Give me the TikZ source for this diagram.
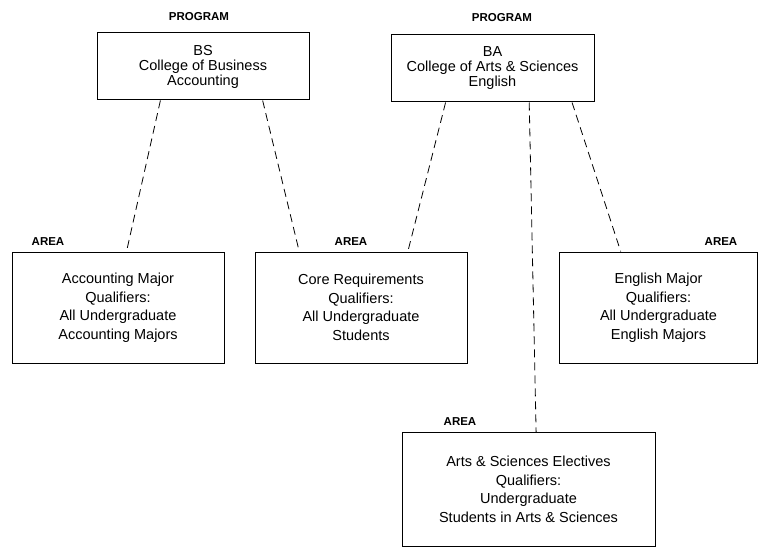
\documentclass[tikz,border=0pt]{standalone}
\usepackage{fontspec}
\setmainfont{Liberation Sans}
\usetikzlibrary{calc}

\begin{document}
\begin{tikzpicture}[
        x=1pt, y=-1pt,
        program/.style={draw=black, line width=1pt, align=center, font=\fontsize{14.5}{15}\selectfont, inner sep=0pt, minimum height=67pt},
        area/.style={draw=black, line width=1pt, align=center, font=\fontsize{14.5}{18.5}\selectfont, inner sep=0pt, minimum height=111pt},
        tag/.style={font=\fontsize{11.5}{12}\selectfont\bfseries, inner sep=0pt},
        link/.style={line width=0.8pt, dash pattern=on 8pt off 5pt}
    ]
    \useasboundingbox (0,0) rectangle (759,548);

    % Programs
    \node[program, minimum width=212pt] (bs) at (203,66.5) {BS\\College of Business\\Accounting};
    \node[program, minimum width=203pt] (ba) at (492.5,68.5) {BA\\College of Arts \& Sciences\\English};
    \node[tag] (bstag) at (199,17) {PROGRAM};
    \node[tag] (batag) at (502,18) {PROGRAM};

    % Areas
    \node[area, minimum width=212pt] (acc) at (118,307.5) {Accounting Major\\Qualifiers:\\All Undergraduate\\Accounting Majors};
    \node[area, minimum width=212pt] (core) at (361,307.5) {Core Requirements\\Qualifiers:\\All Undergraduate\\Students};
    \node[area, minimum width=198pt] (eng) at (658.5,307.5) {English Major\\Qualifiers:\\All Undergraduate\\English Majors};
    \node[area, minimum width=253pt, minimum height=114pt] (arts) at (528.5,489.5) {Arts \& Sciences Electives\\Qualifiers:\\Undergraduate\\Students in Arts \& Sciences};
    \node[tag] (acctag) at (48,242) {AREA};
    \node[tag] (coretag) at (351,242) {AREA};
    \node[tag] (engtag) at (721,242) {AREA};
    \node[tag] (artstag) at (460,422) {AREA};

    % Links
    \draw[link] ($(bs.south west)!.30!(bs.south east)$) -- ($(acc.north west)!.54!(acc.north east)$);
    \draw[link] ($(bs.south west)!.78!(bs.south east)$) -- ($(core.north west)!.21!(core.north east)$);
    \draw[link] ($(ba.south west)!.27!(ba.south east)$) -- ($(core.north west)!.72!(core.north east)$);
    \draw[link] ($(ba.south west)!.68!(ba.south east)$) -- ($(arts.north west)!.53!(arts.north east)$);
    \draw[link] ($(ba.south west)!.89!(ba.south east)$) -- ($(eng.north west)!.31!(eng.north east)$);
\end{tikzpicture}
\end{document}
